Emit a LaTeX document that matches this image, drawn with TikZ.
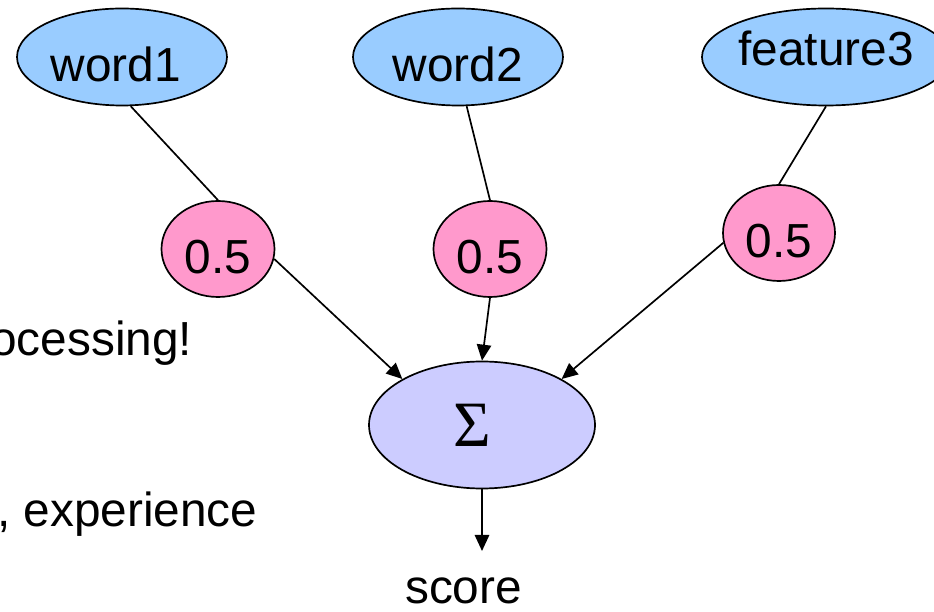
\documentclass[tikz,border=0pt]{standalone}
\usepackage{fontspec}
\setmainfont{Liberation Sans}
\newfontfamily\sigmafont{Liberation Serif}
\definecolor{FeatBlue}{RGB}{153,204,255}
\definecolor{WtPink}{RGB}{255,153,204}
\definecolor{SumLilac}{RGB}{204,204,255}
\usetikzlibrary{shapes.geometric,arrows.meta}

\begin{document}
\begin{tikzpicture}[every node/.style={font=\fontsize{34}{40}\selectfont},
    feat/.style={ellipse,draw,fill=FeatBlue,line width=1.2pt,inner sep=0pt,
                 minimum width=5.25cm,minimum height=2.425cm,
                 text height=1.22cm,text depth=0pt},
    wt/.style={ellipse,draw,fill=WtPink,line width=1.2pt,inner sep=0pt,
               minimum width=2.825cm,minimum height=2.4cm,
               text height=1.25cm,text depth=0pt},
    sumnode/.style={ellipse,draw,fill=SumLilac,line width=1.2pt,inner sep=0pt,
                    minimum width=5.65cm,minimum height=3.175cm,
                    font=\sigmafont\fontsize{46}{50}\selectfont},
    side/.style={inner sep=0pt,anchor=base west},
    link/.style={line width=1.2pt},
    arr/.style={-{Triangle[length=0.4cm,width=0.36cm]},line width=1.2pt}]
    \useasboundingbox (0,0) rectangle (23.35,15.3);
    % cut-off text at the left edge
    \node[side] (txta) at (-0.25,6.4) {ocessing!};
    \node[side] (txtb) at (-0.08,2.125) {, experience};
    % features and weights
    \node[feat] (word1) at (3.05,13.875) {word1\kern0.3cm};
    \node[feat] (word2) at (11.45,13.875) {word2};
    \node[feat,minimum width=5.175cm,text height=0.42cm] (feat3) at (20.65,13.875) {feature3};
    \node[wt] (w1) at (5.45,9.075) {0.5};
    \node[wt] (w2) at (12.25,9.075) {0.5};
    \node[wt,minimum width=2.8cm] (w3) at (19.475,9.475) {0.5};
    \node[sumnode] (sum) at (12.05,4.675) {Σ\kern0.5cm};
    \coordinate (out) at (12.05,1.525);
    \node[inner sep=0pt,anchor=base] (score) at (11.59,0.2) {score};
    \draw[link] (word1.-80)--(w1.north); \draw[link] (word2.-80)--(w2.north);
    \draw[link] (feat3.south)--(w3.north);
    \draw[arr] (w1.-10)--(sum.150); \draw[arr] (w2.south)--(sum.north);
    \draw[arr] (w3.190)--(sum.30);
    \draw[arr] (sum.south)--(out);
  \end{tikzpicture}
\end{document}
